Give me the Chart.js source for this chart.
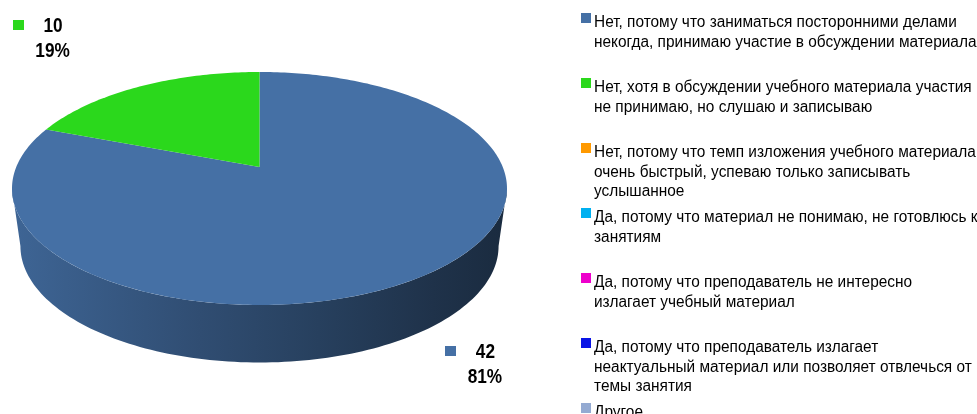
<!DOCTYPE html>
<html>
<head>
<meta charset="utf-8">
<script src="https://cdn.jsdelivr.net/npm/chart.js@4/dist/chart.umd.min.js"></script>
<style>
  html, body { margin: 0; padding: 0; background: #fff; }
  #wrap { position: relative; width: 977px; height: 414px; }
</style>
</head>
<body>
<div id="wrap"><canvas id="c" width="977" height="414"></canvas></div>
<script>
// Survey answers (each entry is one legend item, split into its lines)
const categories = [
  ['Нет, потому что заниматься посторонними делами', 'некогда, принимаю участие в обсуждении материала'],
  ['Нет, хотя в обсуждении учебного материала участия', 'не принимаю, но слушаю и записываю'],
  ['Нет, потому что темп изложения учебного материала', 'очень быстрый, успеваю только записывать', 'услышанное'],
  ['Да, потому что материал не понимаю, не готовлюсь к', 'занятиям'],
  ['Да, потому что преподаватель не интересно', 'излагает учебный материал'],
  ['Да, потому что преподаватель излагает', 'неактуальный материал или позволяет отвлечься от', 'темы занятия'],
  ['Другое']
];
// Number of respondents per answer
const counts = [42, 10, 0, 0, 0, 0, 0];
const colors = ['#4570a5', '#2bd81c', '#ff9900', '#00b0f0', '#ee00cc', '#0a14e6', '#94aad2'];

// Geometry of the tilted disc on screen
const VIEW = {
  cx: 259.5, cy: 188.5,   // centre of the top ellipse
  rx: 247.5, ry: 116.5,   // radii of the top ellipse
  tilt: -0.1845,          // perspective shift of the disc centre
  depth: 57.5,            // height of the side wall
  baseScale: 0.966        // bottom rim is slightly narrower (perspective)
};
const LABEL_OFFSETS = [[63, 82], [-86.5, -55]];

function hexRgb(h) {
  const n = parseInt(h.slice(1), 16);
  return [(n >> 16) & 255, (n >> 8) & 255, n & 255];
}
function shade(h, f) {
  const [r, g, b] = hexRgb(h);
  return `rgb(${Math.round(r * f)},${Math.round(g * f)},${Math.round(b * f)})`;
}

// Map a point of the library's flat pie onto the tilted disc
function makeProjector(arc) {
  const ox = arc.x, oy = arc.y, R = arc.outerRadius;
  const b = VIEW.tilt, k = Math.sqrt(1 - b * b);
  return (x, y) => {
    const u = (x - ox) / R, v = (y - oy) / R;
    const d = 1 + b * v;
    return [VIEW.cx + VIEW.rx * u * k / d, VIEW.cy + VIEW.ry * (v + b) / d];
  };
}
// Angle on the screen ellipse for a rim angle of the flat pie
function rimPhi(t) {
  const b = VIEW.tilt, s = Math.sin(t), c = Math.cos(t), d = 1 + b * s;
  return Math.atan2((s + b) / d, c * Math.sqrt(1 - b * b) / d);
}

const proto = CanvasRenderingContext2D.prototype;

const pie3d = {
  id: 'pie3d',
  beforeDatasetsDraw(chart) {
    const ctx = chart.ctx;
    const arcs = chart.getDatasetMeta(0).data;
    if (!arcs.length) return;

    // side wall along the front half of the rim
    const bx = VIEW.cx, by = VIEW.cy + VIEW.depth, brx = VIEW.rx * VIEW.baseScale, bry = VIEW.ry;
    arcs.forEach((arc, i) => {
      if (!(arc.endAngle > arc.startAngle)) return;
      let ps = rimPhi(arc.startAngle);
      let pe = rimPhi(arc.endAngle);
      while (pe <= ps) pe += Math.PI * 2;
      for (let k = -1; k <= 1; k++) {
        const lo = Math.max(ps, 2 * Math.PI * k), hi = Math.min(pe, Math.PI + 2 * Math.PI * k);
        if (hi <= lo) continue;
        const col = colors[i];
        const g = ctx.createLinearGradient(VIEW.cx - VIEW.rx, 0, VIEW.cx + VIEW.rx, 0);
        g.addColorStop(0, shade(col, 0.9));
        g.addColorStop(0.38, shade(col, 0.69));
        g.addColorStop(0.62, shade(col, 0.57));
        g.addColorStop(0.85, shade(col, 0.45));
        g.addColorStop(1, shade(col, 0.38));
        ctx.save();
        ctx.beginPath();
        const n = 120;
        for (let j = 0; j <= n; j++) {
          const p = lo + (hi - lo) * j / n;
          const X = VIEW.cx + VIEW.rx * Math.cos(p), Y = VIEW.cy + VIEW.ry * Math.sin(p);
          j === 0 ? ctx.moveTo(X, Y) : ctx.lineTo(X, Y);
        }
        for (let j = n; j >= 0; j--) {
          const p = lo + (hi - lo) * j / n;
          ctx.lineTo(bx + brx * Math.cos(p), by + bry * Math.sin(p));
        }
        ctx.closePath();
        ctx.fillStyle = g;
        ctx.fill();
        ctx.restore();
      }
    });

    // the library then draws its slices through the perspective projection
    const P = makeProjector(arcs[0]);
    ctx.moveTo = (x, y) => proto.moveTo.call(ctx, ...P(x, y));
    ctx.lineTo = (x, y) => proto.lineTo.call(ctx, ...P(x, y));
    ctx.arc = (x, y, r, a0, a1, ccw) => {
      if (!isFinite(x) || !isFinite(y)) return;
      if (!(r > 0) || !isFinite(a0) || !isFinite(a1)) {
        proto.lineTo.call(ctx, ...P(x, y));
        return;
      }
      let sweep = a1 - a0;
      const T = Math.PI * 2;
      if (!ccw) { if (sweep >= T) sweep = T; else { while (sweep < 0) sweep += T; } }
      else { if (sweep <= -T) sweep = -T; else { while (sweep > 0) sweep -= T; } }
      const n = Math.max(2, Math.ceil(Math.abs(sweep) / (Math.PI / 180)));
      for (let j = 0; j <= n; j++) {
        const a = a0 + sweep * j / n;
        proto.lineTo.call(ctx, ...P(x + r * Math.cos(a), y + r * Math.sin(a)));
      }
    };
  },
  afterDatasetsDraw(chart) {
    const ctx = chart.ctx;
    delete ctx.moveTo;
    delete ctx.lineTo;
    delete ctx.arc;
  }
};

// Condensed face for the value labels, regular face (slightly squeezed) for the legend
function hasFont(name) {
  const c = document.createElement('canvas').getContext('2d');
  c.font = `16px "${name}", serif`;
  const a = c.measureText('Нет, потому что').width;
  c.font = '16px serif';
  const b = c.measureText('Нет, потому что').width;
  return Math.abs(a - b) > 0.5;
}
const NARROW = hasFont('Liberation Sans Narrow')
  ? { family: '"Liberation Sans Narrow"', sx: 1 }
  : { family: '"Liberation Sans", Arial, sans-serif', sx: 0.82 };
const REGULAR = { family: '"Liberation Sans", Arial, sans-serif', sx: 0.963 };

function drawText(ctx, font, text, x, y, align) {
  ctx.save();
  ctx.translate(x, y);
  ctx.scale(font.sx, 1);
  ctx.textAlign = align;
  ctx.fillText(text, 0, 0);
  ctx.restore();
}

const valueLabels = {
  id: 'valueLabels',
  afterDraw(chart) {
    const ctx = chart.ctx;
    const arcs = chart.getDatasetMeta(0).data;
    const values = chart.data.datasets[0].data;
    const total = values.reduce((s, v) => s + v, 0);
    ctx.save();
    ctx.textBaseline = 'alphabetic';
    ctx.font = `bold 21px ${NARROW.family}`;
    arcs.forEach((arc, i) => {
      const v = values[i];
      if (!v || !LABEL_OFFSETS[i]) return;
      const mid = (arc.startAngle + arc.endAngle) / 2;
      const p = rimPhi(mid);
      const ax = VIEW.cx + VIEW.rx * Math.cos(p) + LABEL_OFFSETS[i][0];
      const ay = VIEW.cy + VIEW.ry * Math.sin(p) + LABEL_OFFSETS[i][1];
      ctx.fillStyle = colors[i];
      ctx.fillRect(Math.round(ax - 40.5), Math.round(ay - 12), 11, 10);
      ctx.fillStyle = '#000';
      drawText(ctx, NARROW, String(v), ax, ay, 'center');
      drawText(ctx, NARROW, Math.round(v / total * 100) + '%', ax - 0.5, ay + 25, 'center');
    });
    ctx.restore();
  }
};

const sideLegend = {
  id: 'sideLegend',
  afterDraw(chart) {
    const ctx = chart.ctx;
    const labels = chart.data.labels;
    ctx.save();
    ctx.font = `16px ${REGULAR.family}`;
    ctx.textBaseline = 'alphabetic';
    labels.forEach((lines, i) => {
      const top = 13 + 65 * i;
      ctx.fillStyle = colors[i];
      ctx.fillRect(581, top, 10, 10);
      ctx.fillStyle = '#000';
      lines.forEach((ln, j) => drawText(ctx, REGULAR, ln, 594, top + 13.7 + 19.8 * j, 'left'));
    });
    ctx.restore();
  }
};

new Chart(document.getElementById('c'), {
  type: 'pie',
  data: {
    labels: categories,
    datasets: [{
      data: counts,
      backgroundColor: colors,
      borderWidth: 0,
      hoverOffset: 0,
      clip: false
    }]
  },
  options: {
    responsive: false,
    animation: false,
    events: [],
    layout: { padding: { left: 10, right: 470, top: 10, bottom: 10 } },
    plugins: { legend: { display: false }, tooltip: { enabled: false } }
  },
  plugins: [pie3d, valueLabels, sideLegend]
});
</script>
</body>
</html>
